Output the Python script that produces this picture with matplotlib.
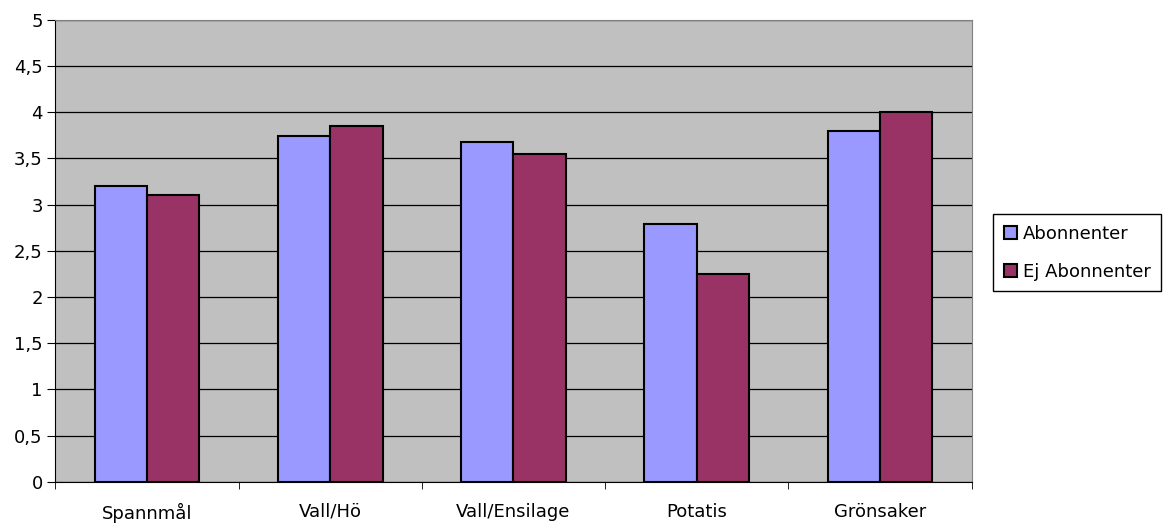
import numpy as np
import matplotlib.pyplot as plt
from matplotlib.ticker import FixedLocator

plt.rcParams['font.family'] = ['DejaVu Sans']

categories = ['Spannmål', 'Vall/Hö', 'Vall/Ensilage', 'Potatis', 'Grönsaker']
abonnenter = [3.2, 3.74, 3.68, 2.79, 3.8]
ej_abonnenter = [3.11, 3.85, 3.55, 2.25, 4.0]
series_names = ['Abonnenter', 'Ej Abonnenter']
yticks = [0, 0.5, 1, 1.5, 2, 2.5, 3, 3.5, 4, 4.5, 5]
ytick_labels = ['0', '0,5', '1', '1,5', '2', '2,5', '3', '3,5', '4', '4,5', '5']

fig = plt.figure(figsize=(11.64, 5.23), dpi=100)
ax = fig.add_axes([0.0475, 0.079, 0.7873, 0.8828])
ax.set_facecolor('#c0c0c0')

# two bars per category, Excel-style gap (150%)
x = np.arange(len(categories))
w = 1 / 3.5
ax.bar(x - w / 2, abonnenter, w, color='#9999ff', edgecolor='black', linewidth=1.5,
       label=series_names[0], zorder=3)
ax.bar(x + w / 2, ej_abonnenter, w, color='#993366', edgecolor='black', linewidth=1.5,
       label=series_names[1], zorder=3)

ax.set_xlim(-0.5, len(categories) - 0.5)
ax.set_ylim(0, 5)
ax.set_yticks(yticks)
ax.set_yticklabels(ytick_labels, fontsize=13)
ax.set_xticks(x)
ax.set_xticklabels(categories, fontsize=13)
ax.tick_params(axis='x', length=0, pad=15)
# ticks between the categories
ax.xaxis.set_minor_locator(FixedLocator(np.arange(-0.5, len(categories), 1)))
ax.tick_params(axis='x', which='minor', length=5, direction='out')
ax.tick_params(axis='y', length=6, direction='out', pad=3)

ax.yaxis.grid(True, color='black', linewidth=0.9)
ax.set_axisbelow(True)
for s in ['top', 'right']:
    ax.spines[s].set_color('#808080')
for s in ['left', 'bottom']:
    ax.spines[s].set_color('black')

leg = fig.legend(loc='upper left', bbox_to_anchor=(0.853, 0.591), borderaxespad=0,
                 fontsize=13, frameon=True, fancybox=False, edgecolor='black',
                 framealpha=1, handlelength=0.75, handleheight=0.75,
                 handletextpad=0.3, borderpad=0.6, labelspacing=1.1)
leg.get_frame().set_linewidth(1)

fig.savefig('out.png', dpi=100)
